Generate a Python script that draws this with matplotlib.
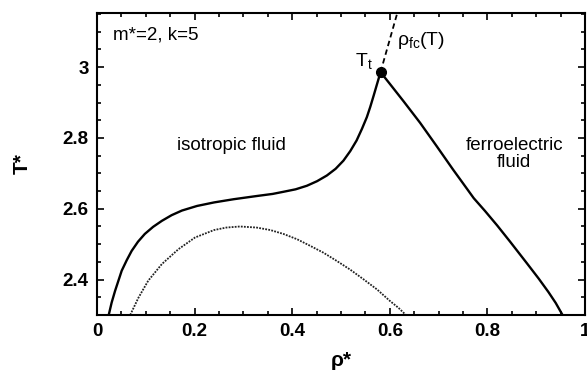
import numpy as np
import matplotlib
matplotlib.use("Agg")
from matplotlib import pyplot as plt
from matplotlib.ticker import MultipleLocator

plt.rcParams['font.family'] = ['Liberation Sans', 'DejaVu Sans']

# coexistence curve, isotropic side (rho*, T*)
iso_rho = [0.024, 0.030, 0.037, 0.0506, 0.061, 0.071, 0.084, 0.098, 0.115, 0.133, 0.153,
           0.174, 0.205, 0.240, 0.280, 0.327, 0.360, 0.382, 0.407, 0.430, 0.451,
           0.471, 0.489, 0.505, 0.519, 0.532, 0.543, 0.553, 0.560, 0.567, 0.574, 0.581]
iso_T = [2.300, 2.335, 2.368, 2.425, 2.455, 2.481, 2.507, 2.529, 2.549, 2.566, 2.582,
         2.595, 2.608, 2.618, 2.627, 2.636, 2.642, 2.648, 2.655, 2.665, 2.678,
         2.694, 2.713, 2.736, 2.763, 2.793, 2.826, 2.859, 2.888, 2.920, 2.953, 2.986]

# coexistence curve, ferroelectric side
fer_rho = [0.581, 0.600, 0.628, 0.662, 0.696, 0.730, 0.750, 0.772, 0.795, 0.820, 0.846,
           0.881, 0.905, 0.925, 0.940, 0.954]
fer_T = [2.986, 2.953, 2.904, 2.843, 2.777, 2.710, 2.672, 2.630, 2.594, 2.553, 2.508,
         2.446, 2.403, 2.365, 2.334, 2.300]

# dotted curve
dot_rho = [0.068, 0.085, 0.105, 0.133, 0.167, 0.201, 0.240, 0.265, 0.293, 0.327, 0.355,
           0.382, 0.410, 0.436, 0.464, 0.491, 0.519, 0.546, 0.574, 0.600, 0.618, 0.633]
dot_T = [2.300, 2.349, 2.397, 2.444, 2.486, 2.519, 2.540, 2.547, 2.550, 2.547, 2.540,
         2.529, 2.514, 2.496, 2.476, 2.453, 2.428, 2.401, 2.372, 2.340, 2.320, 2.300]

# rho_fc(T) line
fc_rho = [0.581, 0.625]
fc_T = [2.986, 3.20]

Tt_rho, Tt_T = 0.581, 2.986

x_ticks = [0, 0.2, 0.4, 0.6, 0.8, 1]
x_ticklabels = ['0', '0.2', '0.4', '0.6', '0.8', '1']
y_ticks = [2.4, 2.6, 2.8, 3.0]
y_ticklabels = ['2.4', '2.6', '2.8', '3']

fig = plt.figure(figsize=(5.87, 3.77), dpi=100)
ax = fig.add_axes([97/587, 62/377, 488/587, 302/377])

ax.plot(iso_rho, iso_T, color='black', lw=1.7)
ax.plot(fer_rho, fer_T, color='black', lw=1.7)
ax.plot(dot_rho, dot_T, color='#222222', lw=1.3, linestyle=(0, (1, 0.7)))
ax.plot(fc_rho, fc_T, color='black', lw=1.3, linestyle=(0, (3, 2)))
ax.plot([Tt_rho], [Tt_T], 'o', color='black', ms=7, zorder=5)

ax.set_xlim(0, 1)
ax.set_ylim(2.3, 3.153)
ax.set_xticks(x_ticks)
ax.set_xticklabels(x_ticklabels)
ax.set_yticks(y_ticks)
ax.set_yticklabels(y_ticklabels)
ax.xaxis.set_minor_locator(MultipleLocator(0.05))
ax.yaxis.set_minor_locator(MultipleLocator(0.05))
ax.tick_params(which='both', direction='in', top=True, right=True, width=1.2)
ax.tick_params(which='major', length=5, labelsize=13.5, pad=6)
ax.tick_params(which='minor', length=3)
for lab in ax.get_xticklabels() + ax.get_yticklabels():
    lab.set_fontweight('bold')
for s in ax.spines.values():
    s.set_linewidth(1.5)

ax.set_xlabel('ρ*', fontsize=15, fontweight='bold', labelpad=8)
ax.set_ylabel('T*', fontsize=15, fontweight='bold', labelpad=22)

ax.text(0.033, 3.09, 'm*=2, k=5', fontsize=13.5, ha='left', va='center')
ax.text(0.276, 2.78, 'isotropic fluid', fontsize=13.5, ha='center', va='center')
ax.text(0.855, 2.755, 'ferroelectric\nfluid', fontsize=13.5, ha='center', va='center',
        linespacing=1.05)
ax.text(0.615, 3.075, r'$\mathregular{\rho_{fc}(T)}$', fontsize=14, ha='left', va='center')
ax.text(0.565, 2.99, r'$\mathregular{T_t}$', fontsize=14, ha='right', va='bottom')

fig.savefig('out.png', dpi=100)
